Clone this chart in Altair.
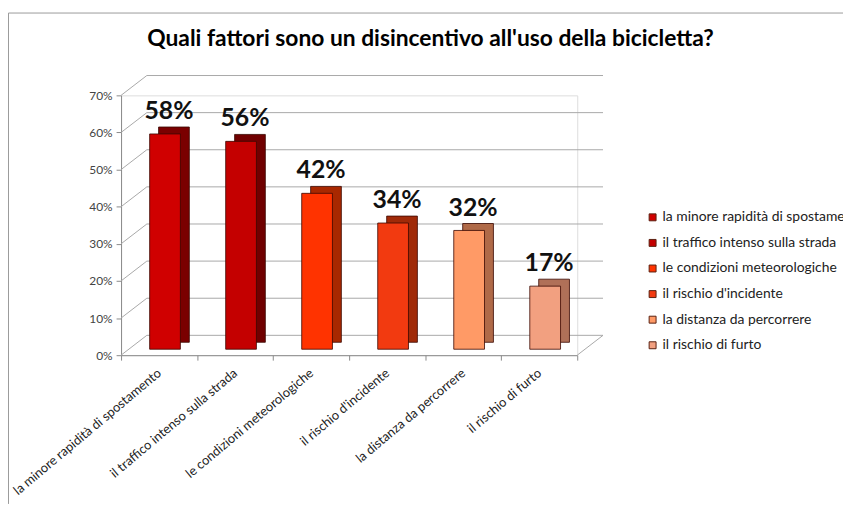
import altair as alt
import pandas as pd

# ---- data ----
categories = [
    "la minore rapidità di spostamento",
    "il traffico intenso sulla strada",
    "le condizioni meteorologiche",
    "il rischio d'incidente",
    "la distanza da percorrere",
    "il rischio di furto",
]
values = [0.58, 0.56, 0.42, 0.34, 0.32, 0.17]
value_labels = ["58%", "56%", "42%", "34%", "32%", "17%"]
y_ticks = [0.0, 0.1, 0.2, 0.3, 0.4, 0.5, 0.6, 0.7]

# ---- styles ----
front_colors = ["#D00000", "#C40000", "#FF3300", "#F23A10", "#FF9A66", "#F2A080"]
side_colors = ["#7A0000", "#700000", "#A82800", "#A02A08", "#B06A48", "#B07058"]
TITLE = "Quali fattori sono un disincentivo all'uso della bicicletta?"
W, H = 460, 262
PAD_L, PAD_T, PAD_R, PAD_B = 114, 86, 268, 150
DX, DY = 26, 20          # depth of the 3D wall
BX, BY = 9, 7            # depth of each bar
FX, FY = 6, 6            # front-face shift of bars
BAR = 31
GRID = "#A8A8A8"
AXIS = "#8A8A8A"
FONT = "Lato"

df = pd.DataFrame({"cat": categories, "val": values, "label": value_labels})
grid_df = pd.DataFrame({"t": y_ticks})

xs = alt.Scale(domain=categories, paddingInner=0, paddingOuter=0)
ys = alt.Scale(domain=[0, 0.7], nice=False)


def x_axis():
    return alt.Axis(
        title=None, labelAngle=-40, labelAlign="right", labelBaseline="middle",
        labelFont=FONT, labelFontSize=13, labelColor="#222222", labelPadding=11,
        labelLimit=0, tickBand="extent", tickSize=5, tickColor=AXIS,
        domain=True, domainColor=AXIS,
    )


def y_axis():
    return alt.Axis(
        title=None, values=y_ticks, format=".0%", grid=False, labelOverlap=False,
        labelFont=FONT, labelFontSize=12, labelColor="#444444", labelPadding=4,
        tickSize=5, tickColor=AXIS, domain=True, domainColor=AXIS,
    )


x_enc = alt.X("cat:N", sort=categories, scale=xs, axis=x_axis())
y_enc = alt.Y("val:Q", scale=ys, axis=y_axis())

back_grid = alt.Chart(grid_df).mark_rule(color=GRID, strokeWidth=1, yOffset=-DY).encode(
    y=alt.Y("t:Q", scale=ys, axis=y_axis()),
    x=alt.value(DX), x2=alt.value(W + DX),
)
left_diag = alt.Chart(grid_df).mark_rule(color=GRID, strokeWidth=1, y2Offset=-DY).encode(
    y=alt.Y("t:Q", scale=ys, axis=y_axis()), y2=alt.Y2("t:Q"),
    x=alt.value(0), x2=alt.value(DX),
)
floor_diag = alt.Chart(grid_df).transform_filter("datum.t == 0").mark_rule(
    color=GRID, strokeWidth=1, y2Offset=-DY
).encode(
    y=alt.Y("t:Q", scale=ys, axis=y_axis()), y2=alt.Y2("t:Q"),
    x=alt.value(W), x2=alt.value(W + DX),
)

# outer frame of the chart area (decoration)
frame_left = alt.Chart(grid_df).transform_filter("datum.t == 0").mark_rule(
    color="#9A9A9A", strokeWidth=1
).encode(x=alt.value(-PAD_L + 0.5), y=alt.value(-PAD_T + 3), y2=alt.value(H + PAD_B))
frame_top = alt.Chart(grid_df).transform_filter("datum.t == 0").mark_rule(
    color="#9A9A9A", strokeWidth=1
).encode(y=alt.value(-PAD_T + 3), x=alt.value(-PAD_L + 0.5), x2=alt.value(W + PAD_R))

side = alt.Chart(df).mark_bar(
    size=BAR, xOffset=FX + BX, x2Offset=FX + BX, yOffset=-(FY + BY), y2Offset=-(FY + BY),
    stroke="#3a0800", strokeWidth=0.8,
).encode(
    x=x_enc, y=y_enc,
    color=alt.Color("cat:N", sort=categories,
                    scale=alt.Scale(domain=categories, range=side_colors), legend=None),
)

front = alt.Chart(df).mark_bar(
    size=BAR, xOffset=FX, x2Offset=FX, yOffset=-FY, y2Offset=-FY,
    stroke="#3a0800", strokeWidth=0.8,
).encode(
    x=x_enc, y=y_enc,
    fill=alt.Fill(
        "cat:N", sort=categories,
        scale=alt.Scale(domain=categories, range=front_colors),
        legend=alt.Legend(
            title=None, orient="none", legendX=529, legendY=116,
            symbolType="square", symbolSize=49, symbolStrokeColor="#5a2010",
            symbolStrokeWidth=1, labelFont=FONT, labelFontSize=14,
            labelColor="#222222", rowPadding=11.8, labelLimit=0, labelOffset=3,
        ),
    ),
)

text = alt.Chart(df).mark_text(
    font=FONT, fontSize=25, fontWeight="bold", color="#111111",
    baseline="alphabetic", align="center", dy=-21, xOffset=FX + 4,
).encode(
    x=x_enc, y=y_enc,
    text="label:N",
)

chart = alt.layer(
    frame_left, frame_top, back_grid, left_diag, floor_diag, side, front, text
).resolve_scale(
    color="independent"
).properties(
    width=W, height=H,
    autosize=alt.AutoSizeParams(type="none"),
    padding={"left": PAD_L, "top": PAD_T, "right": PAD_R, "bottom": PAD_B},
    title=alt.TitleParams(TITLE, font=FONT, fontSize=23, fontWeight="bold",
                          color="#000000", anchor="middle", dx=82, offset=0, dy=57,
                          baseline="alphabetic"),
).configure_view(stroke=None).configure(background="white")

chart.save("out.html", embed_options={"renderer": "svg", "actions": False})
